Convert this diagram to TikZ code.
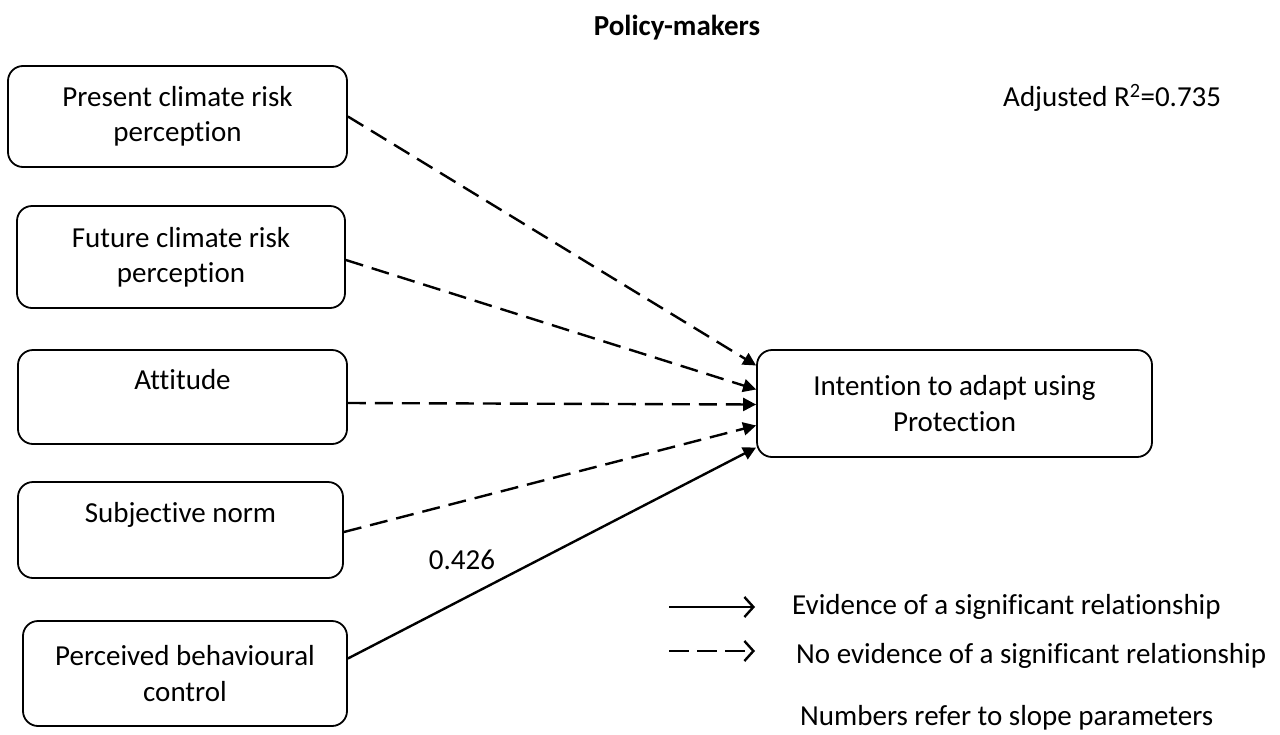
\documentclass[tikz,border=0pt]{standalone}
\usepackage{fontspec}
\setmainfont{Carlito}[Ligatures=NoCommon]
\usetikzlibrary{arrows.meta}

\tikzset{
  txt/.style={font=\fontsize{29pt}{35.4pt}\selectfont, inner sep=0pt},
  box/.style={txt, draw, line width=1.8pt, rounded corners=15pt, align=center},
  sig/.style={line width=2.4pt, -{Triangle[length=13pt,width=13pt]}},
  nonsig/.style={sig, dash pattern=on 18pt off 9pt},
  legsig/.style={line width=2.4pt, -{Straight Barb[length=9pt,width=20pt,line width=2.4pt]}},
  legnonsig/.style={legsig, dash pattern=on 20pt off 8pt}
}

\begin{document}
\begin{tikzpicture}[x=1pt,y=-1pt]
  \useasboundingbox (0,0) rectangle (1280,734);

  % heading and fit statistic
  \node[txt, font=\fontsize{29pt}{35.4pt}\selectfont\bfseries] (title) at (677,28) {Policy-makers};
  \node[txt, anchor=west] (rsq) at (1003,98) {Adjusted R\textsuperscript{2}=0.735};

  % predictors
  \node[box, minimum width=339pt, minimum height=101pt] (b1) at (177.5,116.5) {Present climate risk\\perception};
  \node[box, minimum width=328pt, minimum height=102pt] (b2) at (181,257) {Future climate risk\\perception};
  \node[box, minimum width=329pt, minimum height=94pt] (b3) at (182.5,397) {Attitude\\~};
  \node[box, minimum width=325pt, minimum height=96pt] (b4) at (180.5,530) {Subjective norm\\~};
  \node[box, minimum width=324pt, minimum height=105pt] (b5) at (185,673.5) {Perceived behavioural\\control};

  % outcome
  \node[box, minimum width=395pt, minimum height=107pt] (out) at (954.5,403.5) {Intention to adapt using\\Protection};

  % paths
  \draw[nonsig] (b1.east) -- ([yshift=38pt]out.west);
  \draw[nonsig] ([yshift=-3pt]b2.east) -- ([yshift=14pt]out.west);
  \draw[nonsig] ([yshift=-6pt]b3.east) -- ([yshift=-1pt]out.west);
  \draw[nonsig] ([yshift=-2pt]b4.east) -- ([yshift=-22pt]out.west);
  \draw[sig] ([yshift=15pt]b5.east) -- ([yshift=-44pt]out.west);
  \node[txt] (slope) at (462,560) {0.426};

  % key
  \coordinate (k1a) at (669,607);
  \coordinate (k1b) at (755,607);
  \coordinate (k2a) at (669,651);
  \coordinate (k2b) at (755,651);
  \draw[legsig] (k1a) -- (k1b);
  \draw[legnonsig] (k2a) -- (k2b);
  \node[txt, anchor=west] (k1t) at (792,607) {Evidence of a significant relationship};
  \node[txt, anchor=west] (k2t) at (796,656) {No evidence of a significant relationship};
  \node[txt, anchor=west] (k3t) at (800,718) {Numbers refer to slope parameters};
\end{tikzpicture}
\end{document}
